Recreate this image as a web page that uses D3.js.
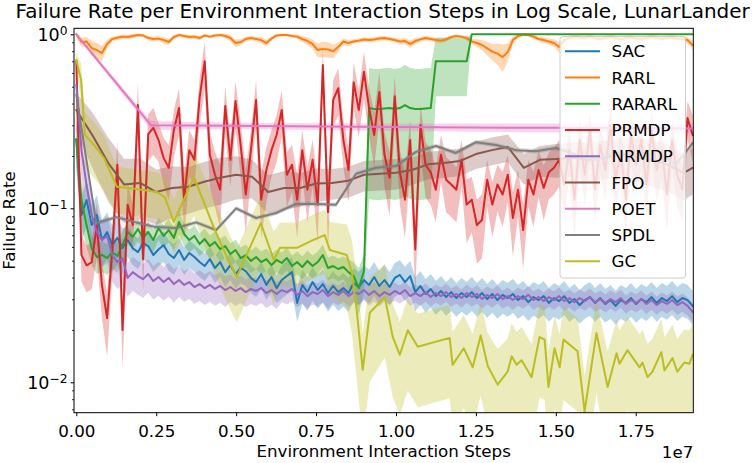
<!DOCTYPE html>
<html><head><meta charset="utf-8">
<script src="https://cdn.jsdelivr.net/npm/d3@7"></script>
<style>body{margin:0;background:#fff}svg{display:block}text{font-family:"DejaVu Sans",sans-serif;fill:#000}</style>
</head><body><svg id="chart" width="754" height="463"></svg>
<script>
// ---------------- DATA (steps in millions) ----------------
const seriesNames = ["SAC","RARL","RARARL","PRMDP","NRMDP","FPO","POET","SPDL","GC"];
const seriesColors = ["#1f77b4","#ff7f0e","#2ca02c","#d62728","#9467bd","#8c564b","#e377c2","#7f7f7f","#bcbd22"];
const xTickValues = [0,2.5,5,7.5,10,12.5,15,17.5];
const yMajorTicks = [0.01,0.1,1];
const yMinorTicks = [0.007,0.008,0.009,0.02,0.03,0.04,0.05,0.06,0.07,0.08,0.09,0.2,0.3,0.4,0.5,0.6,0.7,0.8,0.9];

// dense evaluation grid: 121 evaluations from 0 to 19.28M steps
const denseSteps = d3.range(121).map(i => i * 19.28 / 120);

const sacMean = [
0.247,0.0915,0.1116,0.0802,0.0915,0.0657,0.0731,0.0615,0.0676,0.0591,
0.0657,0.0590,0.0560,0.0632,0.0607,0.0539,0.0580,0.0615,0.0546,0.0518,
0.0576,0.0505,0.0554,0.0525,0.0491,0.0466,0.0511,0.0454,0.0491,0.0430,
0.0472,0.0419,0.0454,0.0436,0.0398,0.0377,0.0419,0.0363,0.0403,0.0348,
0.0387,0.0408,0.0430,0.0286,0.0363,0.0330,0.0377,0.0339,0.0367,0.0326,
0.0358,0.0330,0.0348,0.0326,0.0372,0.0353,0.0387,0.0363,0.0403,0.0358,
0.0387,0.0353,0.0398,0.0414,0.0377,0.0408,0.0330,0.0358,0.0322,0.0344,
0.0313,0.0335,0.0309,0.0330,0.0305,0.0326,0.0309,0.0330,0.0305,0.0326,
0.0301,0.0322,0.0297,0.0318,0.0305,0.0322,0.0297,0.0313,0.0289,0.0309,
0.0297,0.0313,0.0286,0.0305,0.0293,0.0313,0.0286,0.0301,0.0278,0.0297,
0.0309,0.0286,0.0305,0.0282,0.0297,0.0275,0.0297,0.0286,0.0305,0.0282,
0.0301,0.0289,0.0309,0.0286,0.0305,0.0293,0.0313,0.0289,0.0305,0.0297,
0.0275];
const sacSpreadBySegment = [0.3,0.2,0.18,0.18,0.22,0.22,0.22,0.22,0.22,0.22,0.22,0.22,0.22];

const rarlMean = [
1.0,0.903,0.91,0.834,0.812,0.78,0.88,0.94,0.955,0.97,
0.965,0.978,0.99,0.985,0.952,0.94,0.945,0.927,0.903,0.965,
0.99,0.978,0.965,0.97,0.952,0.985,0.97,0.985,0.99,0.978,
0.952,0.891,0.903,0.94,0.952,0.94,0.927,0.891,0.945,0.985,
0.99,0.99,0.978,0.97,0.94,0.915,0.88,0.812,0.823,0.818,
0.80,0.845,0.91,0.891,0.91,0.92,0.935,0.927,0.935,0.945,
0.952,0.94,0.927,0.91,0.915,0.88,0.915,0.935,0.952,0.94,
0.927,0.92,0.935,0.965,0.978,0.97,0.952,0.91,0.891,0.868,
0.83,0.795,0.775,0.74,0.79,0.927,0.978,0.995,0.99,0.97,
0.94,0.927,0.91,0.891,0.845,0.927,0.952,0.965,0.958,0.952,
0.965,0.945,0.94,0.952,0.965,0.952,0.935,0.952,0.958,0.945,
0.94,0.952,0.965,0.952,0.94,0.952,0.958,0.945,0.94,0.927,
0.868];
const rarlSpread = [
0.03,0.06,0.06,0.1,0.1,0.1,0.06,0.03,0.03,0.03,
0.03,0.03,0.02,0.02,0.03,0.03,0.03,0.04,0.04,0.03,
0.02,0.02,0.03,0.03,0.03,0.02,0.02,0.02,0.02,0.03,
0.04,0.05,0.04,0.03,0.03,0.03,0.04,0.04,0.03,0.02,
0.02,0.02,0.02,0.03,0.04,0.05,0.06,0.09,0.1,0.1,
0.09,0.06,0.04,0.04,0.03,0.03,0.03,0.03,0.03,0.03,
0.03,0.03,0.03,0.04,0.04,0.05,0.04,0.03,0.03,0.03,
0.03,0.03,0.03,0.02,0.02,0.02,0.03,0.04,0.05,0.07,
0.09,0.11,0.14,0.18,0.12,0.05,0.03,0.02,0.02,0.03,
0.03,0.04,0.04,0.05,0.07,0.04,0.03,0.03,0.03,0.03,
0.03,0.03,0.03,0.03,0.03,0.03,0.03,0.03,0.03,0.03,
0.03,0.03,0.03,0.03,0.03,0.03,0.03,0.03,0.04,0.04,
0.06];

const rararlMean = [
0.25,0.112,0.080,0.059,0.0525,0.054,0.0518,0.0561,0.0532,0.0615,
0.0731,0.0685,0.0760,0.0676,0.0731,0.0657,0.0771,0.0694,0.0750,0.0676,
0.0834,0.0712,0.0657,0.0694,0.0623,0.0666,0.0607,0.0640,0.0583,0.0607,
0.0546,0.0576,0.0518,0.0539,0.0498,0.0525,0.0491,0.0511,0.0472,0.0505,
0.0485,0.0518,0.0466,0.0491,0.0460,0.0498,0.0466,0.0491,0.0539,0.0454,
0.0466,0.0448,0.0460,0.0430,0.0408,0.0348,0.0436,0.377,0.372,0.372,
0.375,0.377,0.372,0.377,0.392,0.377,0.372,0.372,0.375,0.377,
0.70,0.70,0.70,0.70,0.70,0.70,0.70,1.0,1.0,1.0,
1.0,1.0,1.0,1.0,1.0,1.0,1.0,1.0,1.0,1.0,
1.0,1.0,1.0,1.0,1.0,1.0,1.0,1.0,1.0,1.0,
1.0,1.0,1.0,1.0,1.0,1.0,1.0,1.0,1.0,1.0,
1.0,1.0,1.0,1.0,1.0,1.0,1.0,1.0,1.0,1.0,
1.0];
const rararlSpread = [
0.3,0.3,0.25,0.2,0.2,0.2,0.2,0.2,0.2,0.2,
0.15,0.15,0.15,0.15,0.15,0.15,0.15,0.15,0.15,0.15,
0.15,0.15,0.15,0.15,0.15,0.15,0.15,0.15,0.15,0.15,
0.15,0.15,0.15,0.15,0.15,0.15,0.15,0.15,0.15,0.15,
0.15,0.15,0.15,0.15,0.15,0.15,0.15,0.15,0.15,0.15,
0.15,0.15,0.15,0.18,0.2,0.3,0.25,0.7,0.7,0.7,
0.7,0.7,0.7,0.7,0.7,0.7,0.7,0.7,0.7,0.7,
0.37,0.37,0.37,0.37,0.37,0.37,0.37,0,0,0,
0,0,0,0,0,0,0,0,0,0,
0,0,0,0,0,0,0,0,0,0,
0,0,0,0,0,0,0,0,0,0,
0,0,0,0,0,0,0,0,0,0,
0];

const prmdpMean = [
0.7,0.054,0.047,0.049,0.080,0.036,0.0234,0.058,0.178,0.020,
0.105,0.080,0.392,0.051,0.267,0.290,0.247,0.195,0.171,0.282,
0.377,0.112,0.216,0.190,0.43,0.70,0.203,0.156,0.128,0.387,
0.190,0.414,0.231,0.120,0.216,0.419,0.112,0.166,0.216,0.264,
0.367,0.156,0.178,0.112,0.216,0.128,0.190,0.105,0.666,0.095,
0.419,0.49,0.247,0.166,0.53,0.367,0.61,0.377,0.264,0.466,
0.203,0.15,0.44,0.161,0.112,0.247,0.058,0.301,0.178,0.161,
0.128,0.203,0.146,0.137,0.128,0.190,0.105,0.112,0.08,0.086,
0.146,0.105,0.137,0.120,0.156,0.088,0.128,0.075,0.146,0.120,
0.166,0.131,0.161,0.171,0.190,0.137,0.216,0.112,0.247,0.156,
0.282,0.128,0.231,0.166,0.301,0.146,0.216,0.112,0.264,0.178,
0.247,0.137,0.282,0.166,0.216,0.120,0.247,0.156,0.128,0.33,
0.264];
const prmdpSpread = [
0.2,0.3,0.3,0.3,0.35,0.35,0.4,0.3,0.35,0.4,
0.35,0.3,0.35,0.35,0.3,0.3,0.25,0.3,0.35,0.3,
0.3,0.4,0.3,0.3,0.3,0.3,0.35,0.35,0.4,0.3,
0.3,0.3,0.35,0.4,0.3,0.3,0.4,0.35,0.3,0.3,
0.3,0.35,0.3,0.4,0.3,0.35,0.3,0.4,0.25,0.4,
0.3,0.3,0.3,0.35,0.3,0.3,0.3,0.3,0.35,0.3,
0.35,0.4,0.3,0.35,0.4,0.3,0.45,0.3,0.35,0.35,
0.35,0.3,0.35,0.35,0.35,0.3,0.4,0.35,0.4,0.4,
0.3,0.35,0.3,0.35,0.3,0.4,0.3,0.4,0.3,0.35,
0.3,0.35,0.3,0.3,0.3,0.35,0.3,0.4,0.3,0.35,
0.3,0.35,0.3,0.35,0.3,0.35,0.3,0.4,0.3,0.35,
0.3,0.35,0.3,0.35,0.3,0.4,0.3,0.35,0.35,0.25,
0.3];

const nrmdpMean = [
0.511,0.2163,0.1361,0.0915,0.0731,0.0657,0.0693,0.0539,0.0491,0.0518,
0.0398,0.0430,0.0408,0.0392,0.0419,0.0382,0.0403,0.0377,0.0398,0.0367,
0.0387,0.0363,0.0377,0.0353,0.0367,0.0348,0.0363,0.0344,0.0358,0.0339,
0.0353,0.0335,0.0348,0.0330,0.0344,0.0335,0.0348,0.0326,0.0339,0.0322,
0.0339,0.0330,0.0344,0.0318,0.0335,0.0313,0.0330,0.0322,0.0339,0.0313,
0.0330,0.0318,0.0335,0.0313,0.0330,0.0322,0.0339,0.0318,0.0335,0.0313,
0.0330,0.0318,0.0335,0.0322,0.0339,0.0313,0.0326,0.0313,0.0330,0.0309,
0.0326,0.0313,0.0330,0.0309,0.0322,0.0305,0.0326,0.0309,0.0322,0.0301,
0.0318,0.0305,0.0322,0.0301,0.0313,0.0297,0.0313,0.0301,0.0318,0.0297,
0.0309,0.0293,0.0309,0.0297,0.0313,0.0293,0.0305,0.0289,0.0305,0.0293,
0.0309,0.0289,0.0301,0.0286,0.0301,0.0289,0.0305,0.0282,0.0297,0.0286,
0.0301,0.0282,0.0297,0.0278,0.0293,0.0282,0.0297,0.0278,0.0289,0.0275,
0.0254];
const nrmdpSpreadBySegment = [0.3,0.22,0.2,0.18,0.15,0.13,0.12,0.12,0.12,0.12,0.12,0.12,0.12];

const fpoSteps = [0,0.5,1,1.5,2,2.5,3,3.5,4,4.5,5,5.5,6,6.5,7,7.5,8,8.5,9,9.5,10,10.5,11,11.5,12,12.5,13,13.5,14,14.5,15,15.5,16,16.5,17,17.5,18,18.5,19,19.28];
const fpoMean = [
0.367,0.264,0.182,0.137,0.140,0.124,0.131,0.133,0.142,0.150,
0.156,0.152,0.124,0.131,0.131,0.139,0.140,0.144,0.156,0.158,
0.160,0.166,0.179,0.182,0.187,0.205,0.216,0.225,0.171,0.190,
0.192,0.195,0.190,0.195,0.203,0.198,0.190,0.178,0.160,0.171];
const fpoSpread = [
0.25,0.35,0.4,0.4,0.38,0.35,0.33,0.3,0.3,0.3,
0.28,0.25,0.25,0.25,0.22,0.22,0.2,0.2,0.2,0.2,
0.2,0.18,0.18,0.18,0.18,0.18,0.18,0.18,0.2,0.2,
0.22,0.22,0.25,0.25,0.25,0.28,0.3,0.3,0.3,0.3];

const poetSteps = [0,2.34,5,10,15,19.28];
const poetMean = [1.0,0.300,0.298,0.293,0.290,0.288];
const poetSpread = [0.02,0.06,0.04,0.05,0.06,0.06];

const spdlSteps = [0,0.625,1.25,1.875,2.5,3.125,3.75,4.375,5,5.625,6.25,6.875,7.5,8.125,8.75,9.375,10,10.625,11.25,11.875,12.5,13.125,13.75,14.375,15,15.625,16.25,16.875,17.5,18.125,18.75,19.28];
const spdlMean = [
0.45,0.082,0.089,0.083,0.078,0.077,0.083,0.075,0.100,0.088,
0.094,0.106,0.106,0.105,0.158,0.171,0.175,0.211,0.228,0.208,
0.240,0.231,0.216,0.213,0.222,0.203,0.190,0.211,0.195,0.216,
0.178,0.237];
const spdlSpread = [
0.03,0.03,0.03,0.03,0.03,0.03,0.03,0.03,0.03,0.03,
0.03,0.03,0.03,0.03,0.03,0.03,0.03,0.03,0.03,0.03,
0.03,0.03,0.03,0.03,0.03,0.03,0.03,0.03,0.03,0.03,
0.03,0.03];

const gcSteps = [
0,0.15,0.27,0.58,0.87,1.27,1.77,2.52,2.77,3.05,
3.68,4.30,4.71,5.02,5.77,6.18,6.37,6.90,7.40,7.77,
7.93,8.46,8.62,8.77,8.96,9.18,9.65,9.90,10.12,10.37,
10.68,11.68,11.77,12.12,12.40,12.65,12.87,13.18,13.49,13.62,
13.77,13.93,14.24,14.49,14.65,14.77,14.96,15.12,15.24,15.68,
15.90,16.27,16.62,16.90,16.99,17.24,17.62,17.71,17.87,18.02,
18.30,18.40,18.65,18.80,19.02,19.18,19.28];
const gcMean = [
0.711,0.546,0.264,0.228,0.194,0.133,0.130,0.124,0.116,0.0836,
0.151,0.0778,0.0525,0.0403,0.0822,0.0505,0.0593,0.0593,0.0657,0.0702,
0.0576,0.0539,0.0425,0.026,0.0118,0.0251,0.0309,0.0182,0.0144,0.0199,
0.0160,0.0180,0.0126,0.0157,0.0122,0.0186,0.0124,0.0097,0.0115,0.0141,
0.0126,0.0134,0.0107,0.0182,0.0176,0.0094,0.0157,0.0122,0.0176,0.0151,
0.0068,0.0192,0.0094,0.0147,0.0128,0.0153,0.0122,0.0130,0.0107,0.0115,
0.0149,0.0117,0.0138,0.0115,0.0130,0.0128,0.0144];
const gcSpread = [
0.1,0.25,0.35,0.35,0.35,0.3,0.3,0.3,0.3,0.35,
0.4,0.45,0.45,0.45,0.45,0.45,0.4,0.4,0.4,0.4,
0.45,0.5,0.55,0.6,0.6,0.6,0.55,0.55,0.55,0.55,
0.55,0.55,0.55,0.55,0.55,0.55,0.55,0.6,0.55,0.55,
0.55,0.55,0.55,0.55,0.55,0.6,0.55,0.55,0.55,0.55,
0.6,0.55,0.6,0.55,0.55,0.55,0.55,0.55,0.55,0.55,
0.55,0.55,0.55,0.55,0.55,0.55,0.55];

// ---------------- CHART ----------------
const svg = d3.select("#chart");
const P = {l:74, r:693.3, t:28.3, b:412.7};
const FS = 16.7;
const x = d3.scaleLinear().domain([-0.072, 19.30]).range([P.l, P.r]);
const y = d3.scaleLog().domain([0.00669, 1.083]).range([P.b, P.t]);

svg.append("rect").attr("width",754).attr("height",463).attr("fill","#fff");
svg.append("defs").append("clipPath").attr("id","clip")
  .append("rect").attr("x",P.l).attr("y",P.t).attr("width",P.r-P.l).attr("height",P.b-P.t);

const segSpread = (seg) => denseSteps.map((_,i) => seg[Math.floor(i/10)]);
const defs = [
  {steps:denseSteps, mean:sacMean, spread:segSpread(sacSpreadBySegment)},
  {steps:denseSteps, mean:rarlMean, spread:rarlSpread},
  {steps:denseSteps, mean:rararlMean, spread:rararlSpread},
  {steps:denseSteps, mean:prmdpMean, spread:prmdpSpread},
  {steps:denseSteps, mean:nrmdpMean, spread:segSpread(nrmdpSpreadBySegment)},
  {steps:fpoSteps, mean:fpoMean, spread:fpoSpread},
  {steps:poetSteps, mean:poetMean, spread:poetSpread},
  {steps:spdlSteps, mean:spdlMean, spread:spdlSpread},
  {steps:gcSteps, mean:gcMean, spread:gcSpread}
];
const series = defs.map((d,k) => ({
  name: seriesNames[k], color: seriesColors[k],
  pts: d.steps.map((s,i) => ({s, m:d.mean[i],
     lo: Math.max(d.mean[i]*(1-d.spread[i]), 1e-4), hi: d.mean[i]*(1+d.spread[i])}))
}));

const area = d3.area().x(d=>x(d.s)).y0(d=>y(d.lo)).y1(d=>y(d.hi));
const line = d3.line().x(d=>x(d.s)).y(d=>y(d.m));

const gBands = svg.append("g").attr("clip-path","url(#clip)");
series.forEach(s => gBands.append("path").attr("d",area(s.pts)).attr("fill",s.color).attr("fill-opacity",0.3));
const gLines = svg.append("g").attr("clip-path","url(#clip)");
series.forEach(s => gLines.append("path").attr("d",line(s.pts)).attr("fill","none")
  .attr("stroke",s.color).attr("stroke-width",2).attr("stroke-linejoin","round").attr("stroke-linecap","square"));

// axes
const gx = svg.append("g").attr("transform",`translate(0,${P.b})`)
  .call(d3.axisBottom(x).tickValues(xTickValues).tickFormat(d=>(d/10).toFixed(2)).tickSize(3.5).tickPadding(8.9));
gx.select(".domain").remove();
gx.selectAll("line").attr("stroke","#000").attr("stroke-width",1);
gx.selectAll("text").attr("font-size",FS).attr("font-family","DejaVu Sans").attr("fill","#000");

const gyMinor = svg.append("g").attr("transform",`translate(${P.l},0)`)
  .call(d3.axisLeft(y).tickValues(yMinorTicks).tickFormat("").tickSize(2));
gyMinor.select(".domain").remove();
gyMinor.selectAll("line").attr("stroke","#000").attr("stroke-width",0.8);

const YFS = 17.5;
const gy = svg.append("g").attr("transform",`translate(${P.l},0)`)
  .call(d3.axisLeft(y).tickValues(yMajorTicks).tickFormat("").tickSize(3.5));
gy.select(".domain").remove();
gy.selectAll("line").attr("stroke","#000").attr("stroke-width",1);
gy.selectAll(".tick").each(function(v){
  const e = Math.round(Math.log10(v));
  const t = d3.select(this).append("text").attr("x",-6.5).attr("y",6.3).attr("text-anchor","end")
    .attr("font-size",YFS).attr("fill","#000");
  t.append("tspan").text("10");
  t.append("tspan").attr("dy",-6).attr("font-size",YFS*0.7).text(e<0 ? "\u2212"+(-e) : String(e));
});

// frame
svg.append("rect").attr("x",P.l).attr("y",P.t).attr("width",P.r-P.l).attr("height",P.b-P.t)
  .attr("fill","none").attr("stroke","#000").attr("stroke-width",1);

// labels
svg.append("text").attr("x",(P.l+P.r)/2 - 1).attr("y",18).attr("text-anchor","middle").attr("font-size",20)
  .text("Failure Rate per Environment Interaction Steps in Log Scale, LunarLander");
svg.append("text").attr("x",(P.l+P.r)/2).attr("y",457).attr("text-anchor","middle").attr("font-size",FS)
  .text("Environment Interaction Steps");
svg.append("text").attr("x",P.r).attr("y",458).attr("text-anchor","end").attr("font-size",FS).text("1e7");
svg.append("text").attr("transform",`translate(15,${(P.t+P.b)/2}) rotate(-90)`).attr("text-anchor","middle")
  .attr("font-size",FS).text("Failure Rate");

// legend
const lg = svg.append("g");
lg.append("rect").attr("x",560).attr("y",36.5).attr("width",125.5).attr("height",241.5).attr("rx",3)
  .attr("fill","#fff").attr("fill-opacity",0.8).attr("stroke","#cccccc").attr("stroke-width",1);
series.forEach((s,k) => {
  const yy = 51.3 + k*26.25;
  lg.append("line").attr("x1",565).attr("x2",600).attr("y1",yy).attr("y2",yy).attr("stroke",s.color).attr("stroke-width",2);
  lg.append("text").attr("x",611.5).attr("y",yy+6.1).attr("font-size",FS).text(s.name);
});
</script></body></html>
